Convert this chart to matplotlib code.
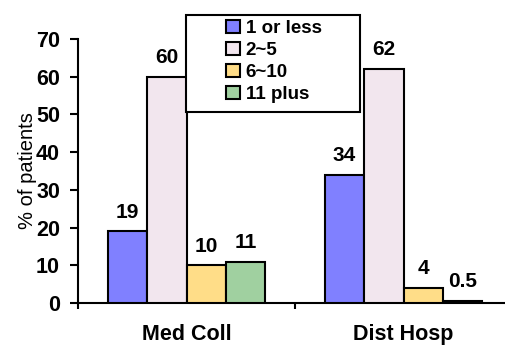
import numpy as np
import matplotlib
matplotlib.use('Agg')
import matplotlib.pyplot as plt
from matplotlib.patches import Rectangle

plt.rcParams['font.family'] = ['Liberation Sans', 'DejaVu Sans']

groups = ['Med Coll', 'Dist Hosp']
series = ['1 or less', '2~5', '6~10', '11 plus']
values = {
    '1 or less': [19, 34],
    '2~5': [60, 62],
    '6~10': [10, 4],
    '11 plus': [11, 0.5],
}
value_text = {
    '1 or less': ['19', '34'],
    '2~5': ['60', '62'],
    '6~10': ['10', '4'],
    '11 plus': ['11', '0.5'],
}
colors = ['#8080FF', '#F2E6EE', '#FFDD88', '#A0D0A0']
yticks = [0, 10, 20, 30, 40, 50, 60, 70]

fig = plt.figure(figsize=(5.05, 3.46), dpi=100)
ax = fig.add_axes([78 / 505, 1 - 303 / 346, 434 / 505, (303 - 39) / 346])

centers = np.arange(len(groups)) + 0.5
w = 0.182
handles = []
for i, s in enumerate(series):
    xs = centers + (i - 1.5) * w
    b = ax.bar(xs, values[s], width=w, color=colors[i], edgecolor='black',
               linewidth=1.5, label=s, zorder=3)
    handles.append(b)
    for x, v, t in zip(xs, values[s], value_text[s]):
        ax.annotate(t, (x, v), xytext=(0, 7), textcoords='offset points',
                    ha='center', va='bottom', fontsize=15, fontweight='bold')

ax.set_xlim(0, 2)
ax.set_ylim(0, 70)
ax.set_yticks(yticks)
ax.set_yticklabels([str(t) for t in yticks], fontsize=15.5, fontweight='bold')
ax.tick_params(axis='y', direction='out', length=6, width=1.5, pad=7)

ax.set_xticks([0, 1, 2])
ax.set_xticklabels([])
ax.tick_params(axis='x', which='major', direction='out', length=4.5, width=1.5)
ax.set_xticks(centers, minor=True)
ax.set_xticklabels(groups, minor=True, fontsize=15.5, fontweight='bold')
ax.tick_params(axis='x', which='minor', length=0, pad=15)

ax.set_ylabel('% of patients', fontsize=14.5, labelpad=-1)

for side in ['top', 'right']:
    ax.spines[side].set_visible(False)
for side in ['left', 'bottom']:
    ax.spines[side].set_linewidth(1.5)

# legend box drawn separately so the padding can be uneven
fig.patches.append(Rectangle((186 / 505, 1 - 112 / 346), (360 - 186) / 505, (112 - 15) / 346,
                             transform=fig.transFigure, facecolor='white',
                             edgecolor='black', linewidth=1.5, zorder=5))
leg = fig.legend(handles=handles, loc='upper left', bbox_to_anchor=(226 / 505, 1 - 20 / 346),
                 frameon=False, borderpad=0, borderaxespad=0, handlelength=0.75,
                 handleheight=0.65, handletextpad=0.3, labelspacing=0.27,
                 prop={'size': 13.5, 'weight': 'bold'})
leg.set_zorder(6)
for h in leg.legend_handles:
    h.set_linewidth(1.5)

fig.savefig('out.png', dpi=100)
